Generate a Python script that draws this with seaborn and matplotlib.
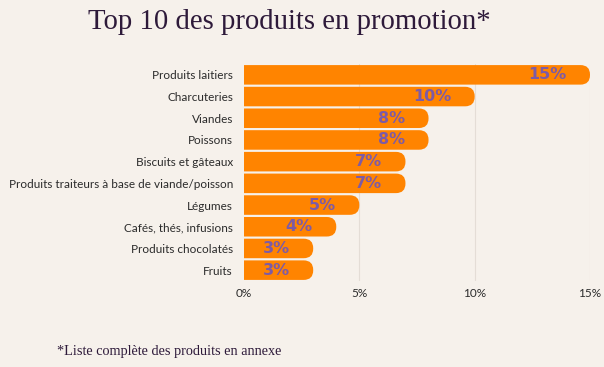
import matplotlib
matplotlib.use("Agg")
import matplotlib.pyplot as plt
import seaborn as sns
import pandas as pd
from matplotlib.patches import FancyBboxPatch

categories = ["Produits laitiers", "Charcuteries", "Viandes", "Poissons",
              "Biscuits et gâteaux", "Produits traiteurs à base de viande/poisson",
              "Légumes", "Cafés, thés, infusions", "Produits chocolatés", "Fruits"]
values = [15, 10, 8, 8, 7, 7, 5, 4, 3, 3]
xticks = [0, 5, 10, 15]
xticklabels = ["0%", "5%", "10%", "15%"]

BG = "#F6F1EB"
ORANGE = "#FF8400"
PURPLE = "#7D5BA6"

sns.set_theme(style="white")
plt.rcParams['font.family'] = ['Lato', 'DejaVu Sans']

df = pd.DataFrame({"cat": categories, "val": values})

fig = plt.figure(figsize=(6.04, 3.67), dpi=100, facecolor=BG)
ax = fig.add_axes([244/604, 1-281/367, (590-244)/604, (281-64)/367])
ax.set_facecolor(BG)

sns.barplot(data=df, x="val", y="cat", orient="h", color=ORANGE, width=0.9,
            saturation=1, ax=ax, zorder=2)

ax.set_xlim(0, 15)
ax.set_ylim(len(categories) - 0.5, -0.5)
ax.set_xticks(xticks)
ax.set_xticklabels(xticklabels)
ax.set_xlabel("")
ax.set_ylabel("")
for s in ax.spines.values():
    s.set_visible(False)
ax.tick_params(axis="both", length=0, labelsize=8.5, colors="#2b2b2b")
ax.tick_params(axis="y", pad=8)
ax.tick_params(axis="x", pad=5)
for x in xticks[1:]:
    ax.axvline(x, color="#E4DDD6", lw=0.8, zorder=1)

# rounded right ends
fig.canvas.draw()
bbox = ax.get_window_extent()
xpp = 15 / bbox.width          # data x per pixel
ypp = len(categories) / bbox.height  # data y per pixel
r_px = 9.5
for p, v in zip(list(ax.patches), values):
    x0, y0, w, h = p.get_x(), p.get_y(), p.get_width(), p.get_height()
    p.set_visible(False)
    rx = r_px * xpp
    fb = FancyBboxPatch((x0 - 2 * rx, y0), w + 2 * rx, h,
                        boxstyle=f"round,pad=0,rounding_size={rx}",
                        mutation_aspect=ypp / xpp,
                        facecolor=ORANGE, edgecolor="none", zorder=2,
                        clip_on=True)
    ax.add_patch(fb)
    fb.set_clip_path(ax.patch)
    ax.annotate(f"{v}%", xy=(v, y0 + h / 2), xytext=(-17, 0),
                textcoords="offset points", ha="right", va="center",
                fontsize=11.5, fontweight="bold", color=PURPLE, zorder=3,
                family=["DejaVu Sans"])

fig.text(289/604, 1-22/367, "Top 10 des produits en promotion*",
         family="Liberation Serif", fontsize=20.7, color="#2E1A3A",
         ha="center", va="center")
fig.text(57/604, 1-351/367, "*Liste complète des produits en annexe",
         family="Liberation Serif", fontsize=10.3, color="#2E1A3A",
         ha="left", va="center")

fig.savefig("out.png", dpi=100, facecolor=BG)
